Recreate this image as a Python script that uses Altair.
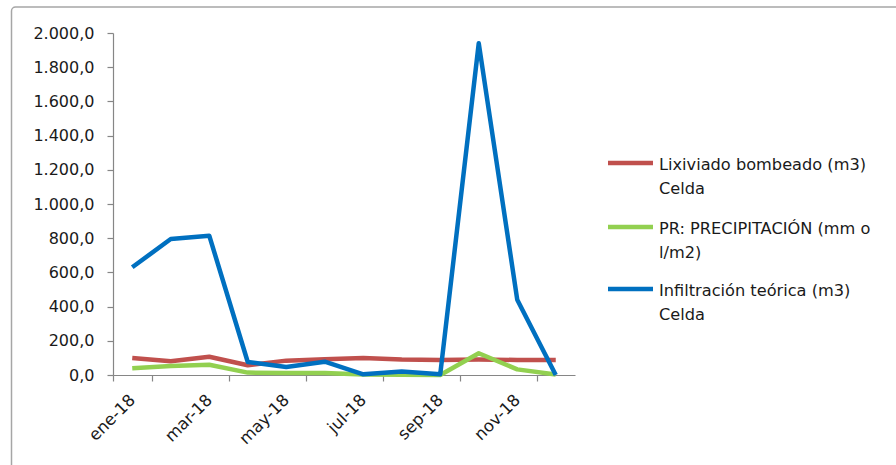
import altair as alt
import pandas as pd

months = ["ene-18", "feb-18", "mar-18", "abr-18", "may-18", "jun-18",
          "jul-18", "ago-18", "sep-18", "oct-18", "nov-18", "dic-18"]
lixiviado = [99, 80, 107, 57, 84, 92, 99, 90, 88, 90, 88, 88]
precipitacion = [39, 53, 60, 14, 12, 12, 3, 2, 0, 127, 33, 3]
infiltracion = [630, 795, 815, 76, 47, 78, 4, 20, 4, 1940, 440, 0]

series_names = ["Lixiviado bombeado (m3) Celda",
                "PR: PRECIPITACIÓN  (mm o l/m2)",
                "Infiltración teórica  (m3) Celda"]
legend_lines = [["Lixiviado bombeado (m3)", "Celda"],
                ["PR: PRECIPITACIÓN  (mm o", "l/m2)"],
                ["Infiltración teórica  (m3)", "Celda"]]
series_values = [lixiviado, precipitacion, infiltracion]
series_colors = ["#C0504D", "#92D050", "#0070C0"]
y_ticks = [0, 200, 400, 600, 800, 1000, 1200, 1400, 1600, 1800, 2000]
x_tick_labels = ["ene-18", "mar-18", "may-18", "jul-18", "sep-18", "nov-18"]

FONT = "DejaVu Sans"
W, H = 462, 342

rows = []
for name, vals in zip(series_names, series_values):
    for m, v in zip(months, vals):
        rows.append({"mes": m, "valor": v, "serie": name})
df = pd.DataFrame(rows)

x_enc = alt.X("mes:O", sort=months,
              scale=alt.Scale(domain=months, paddingInner=0, paddingOuter=0),
              axis=alt.Axis(values=x_tick_labels, tickBand="extent", title=None,
                            labelAngle=-45, labelAlign="right", labelBaseline="middle",
                            labelPadding=16, tickSize=6, labelFontSize=16.5))
y_enc = alt.Y("valor:Q", scale=alt.Scale(domain=[0, 2000], nice=False, zero=True),
              axis=alt.Axis(values=y_ticks, title=None, grid=False, tickSize=6,
                            labelPadding=13, labelFontSize=16,
                            labelExpr="replace(replace(replace(format(datum.value, ',.1f'), ',', ' '), '.', ','), ' ', '.')"))

layers = []

# outer chart frame
layers.append(
    alt.Chart(alt.Data(values=[{"f": 1}])).mark_rect(
        fillOpacity=0, stroke="#A6A6A6", strokeWidth=1.5, cornerRadius=4
    ).encode(x=alt.value(-101.5), x2=alt.value(W + 400), y=alt.value(-26), y2=alt.value(H + 200))
)

for name, color in zip(series_names, series_colors):
    layers.append(
        alt.Chart(df).transform_filter(alt.datum.serie == name).mark_line(
            color=color, strokeWidth=4.5, strokeJoin="round", strokeCap="butt"
        ).encode(x=x_enc, y=y_enc)
    )

# legend
sym_y = [130, 194, 256]
for i, (lines, color) in enumerate(zip(legend_lines, series_colors)):
    layers.append(
        alt.Chart(alt.Data(values=[{"s": series_names[i]}])).mark_rule(
            color=color, strokeWidth=4.5
        ).encode(x=alt.value(495), x2=alt.value(540), y=alt.value(sym_y[i]))
    )
    for j, line in enumerate(lines):
        layers.append(
            alt.Chart(alt.Data(values=[{"t": line}])).mark_text(
                font=FONT, fontSize=16.2, color="#1a1a1a", align="left", baseline="middle"
            ).encode(text="t:N", x=alt.value(546), y=alt.value(sym_y[i] + 2 + 24 * j))
        )

chart = alt.layer(*layers).properties(
    width=W, height=H,
    padding={"left": 113, "top": 33, "right": 896 - 113 - W, "bottom": 465 - 33 - H},
    autosize=alt.AutoSizeParams(type="none"),
    background="white",
).configure_view(stroke=None).configure_axis(
    domainColor="#868686", tickColor="#868686", domainWidth=1.2, tickWidth=1.2,
    labelFont=FONT, labelColor="#1a1a1a",
)

chart.save("out.html", embed_options={"renderer": "svg", "actions": False})
